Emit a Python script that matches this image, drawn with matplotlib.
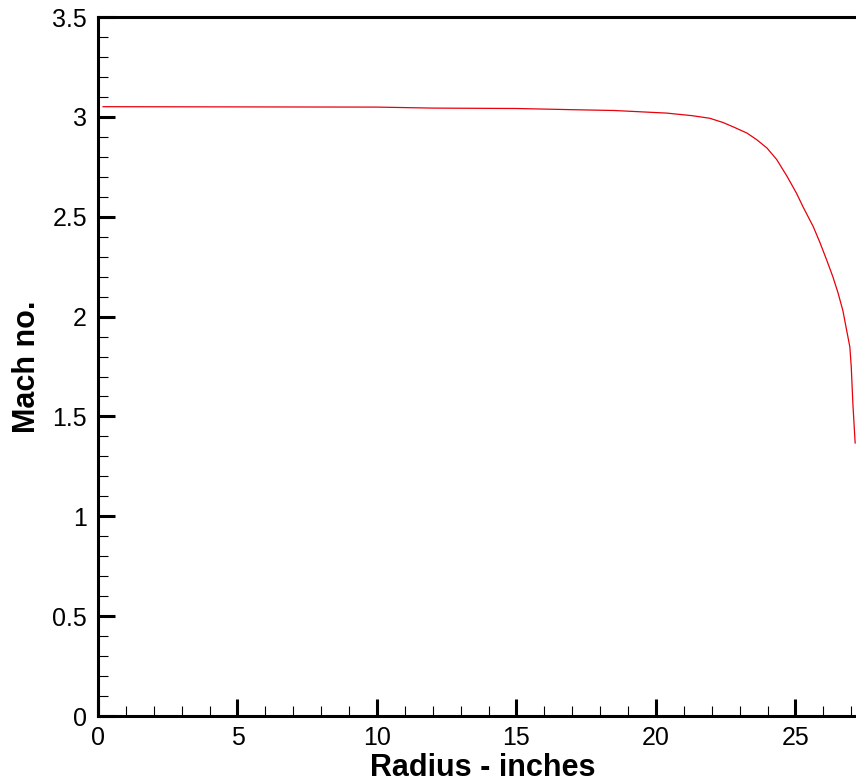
import matplotlib.pyplot as plt
from matplotlib.ticker import MultipleLocator

# Mach number profile along the radius
radius = [0.18, 5.0, 10.0, 12.0, 15.0, 17.0, 18.5, 19.8, 20.38, 21.3, 21.93, 22.4,
          22.77, 23.26, 23.61, 23.98, 24.33, 24.7, 25.04, 25.27, 25.64, 25.88, 26.12,
          26.34, 26.53, 26.7, 26.95, 27.0, 27.06, 27.14]
mach = [3.051, 3.050, 3.049, 3.044, 3.042, 3.036, 3.032, 3.023, 3.019, 3.006, 2.993, 2.972,
        2.950, 2.919, 2.886, 2.844, 2.786, 2.702, 2.617, 2.550, 2.450, 2.370, 2.283,
        2.200, 2.117, 2.030, 1.848, 1.749, 1.560, 1.367]

plt.rcParams['font.family'] = ['Liberation Sans', 'DejaVu Sans']

fig = plt.figure(figsize=(8.56, 7.81), dpi=100)
ax = fig.add_axes([0.1145, 0.0832, 0.8995, 0.895])

ax.plot(radius, mach, color='#e8000b', linewidth=0.9)

ax.set_xlim(0, 27.6)
ax.set_ylim(0, 3.5)
ax.xaxis.set_major_locator(MultipleLocator(5))
ax.xaxis.set_minor_locator(MultipleLocator(1))
ax.yaxis.set_minor_locator(MultipleLocator(0.1))
ax.set_yticks([0, 0.5, 1, 1.5, 2, 2.5, 3, 3.5])
ax.set_yticklabels(['0', '0.5', '1', '1.5', '2', '2.5', '3', '3.5'])

for side in ['left', 'bottom', 'top', 'right']:
    ax.spines[side].set_linewidth(2.2)

ax.tick_params(which='major', direction='in', length=12, width=2.2,
               labelsize=18, pad=7)
ax.tick_params(which='minor', direction='in', length=7, width=0.8)
ax.tick_params(axis='y', which='major', pad=8)

ax.set_xlabel('Radius - inches', fontsize=22, fontweight='bold', labelpad=2)
ax.set_ylabel('Mach no.', fontsize=22, fontweight='bold', labelpad=7)

fig.savefig('out.png', dpi=100)
